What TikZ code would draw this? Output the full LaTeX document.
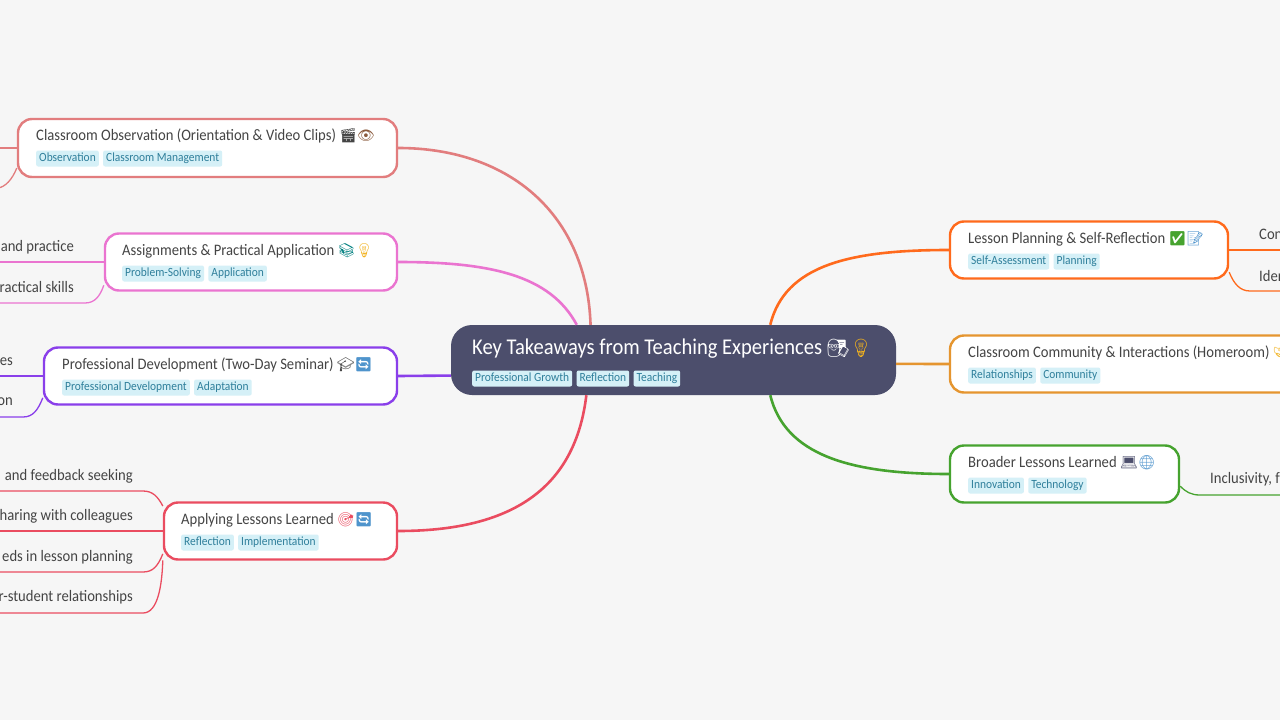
\documentclass[tikz,border=0pt]{standalone}
\usepackage{fontspec}
\setmainfont[FakeStretch=0.915]{Carlito}
\newfontfamily\emojifont{Noto Emoji}
\usetikzlibrary{positioning}
\definecolor{bgcol}{HTML}{F6F6F6}
\definecolor{rootcol}{HTML}{4C4E6C}
\definecolor{tagcol}{HTML}{D5F0F7}
\definecolor{tagtext}{HTML}{2F7F9B}
\definecolor{inkcol}{HTML}{444444}
\definecolor{obscol}{HTML}{E27D7E}
\definecolor{asscol}{HTML}{EA74D0}
\definecolor{devcol}{HTML}{8A3FEA}
\definecolor{appcol}{HTML}{EA4C60}
\definecolor{lescol}{HTML}{FF6A1C}
\definecolor{comcol}{HTML}{E5952F}
\definecolor{brocol}{HTML}{46A32F}
\definecolor{bulbcol}{HTML}{F2B21E}
\definecolor{loopcol}{HTML}{4F94CC}
\definecolor{eyecol}{HTML}{8A5A3C}
\newcommand{\emo}[2]{{\emojifont\fontsize{14}{17}\selectfont\color{#1}#2}}
\begin{document}
\begin{tikzpicture}[y=-1pt,x=1pt]
        \tikzset{
            branch/.style={draw,fill=white,rounded corners=14pt,line width=2.4pt,minimum height=57pt,inner sep=0pt},
            title/.style={anchor=base west,inner sep=0pt,text=inkcol,font=\fontsize{16}{19}\selectfont},
            tag/.style={anchor=west,fill=tagcol,text=tagtext,rounded corners=2pt,inner xsep=3pt,inner ysep=2pt,text height=9pt,text depth=3pt,font=\fontsize{12.5}{15}\selectfont},
            leaf/.style={inner sep=0pt,text=inkcol,font=\fontsize{16}{19}\selectfont},
            link/.style={line width=1.3pt},
            trunk/.style={line width=2.6pt}
        }
        \path[use as bounding box,clip] (0,0) rectangle (1280,720);
        \fill[bgcol] (0,0) rectangle (1280,720);

        \node[fill=rootcol,rounded corners=21pt,minimum width=445pt,minimum height=70pt,inner sep=0pt] (root) at (673.5,360) {};
        \node[title,text=white,font=\fontsize{22.5}{26}\selectfont] (roottitle) at (472,354) {Key Takeaways from Teaching Experiences {\emojifont\fontsize{18}{22}\selectfont\color{white}👨‍🏫\color{bulbcol}💡}};
        \node[tag] (roottag1) at (472,378.5) {Professional Growth};
        \node[tag,right=4pt of roottag1] (roottag2) {Reflection};
        \node[tag,right=4pt of roottag2] (roottag3) {Teaching};

        % left side
        \node[branch,draw=obscol,minimum width=379pt,minimum height=58pt] (obs) at (207.5,148) {};
        \node[title] (obstitle) at (36,140.5) {Classroom Observation (Orientation \& Video Clips) \emo{inkcol}{🎬}\emo{eyecol}{👁}};
        \node[tag] (obstag1) at (36,158.5) {Observation};
        \node[tag,right=4pt of obstag1] (obstag2) {Classroom Management};

        \node[branch,draw=asscol,minimum width=292pt] (ass) at (251,262) {};
        \node[title] (asstitle) at (122,255.5) {Assignments \& Practical Application \emo{teal}{📚}\emo{bulbcol}{💡}};
        \node[tag] (asstag1) at (122,273.5) {Problem-Solving};
        \node[tag,right=4pt of asstag1] (asstag2) {Application};

        \node[branch,draw=devcol,minimum width=353pt] (dev) at (220.5,376) {};
        \node[title] (devtitle) at (62,369.5) {Professional Development (Two-Day Seminar) \emo{inkcol}{🎓}\emo{loopcol}{🔄}};
        \node[tag] (devtag1) at (62,387.5) {Professional Development};
        \node[tag,right=4pt of devtag1] (devtag2) {Adaptation};

        \node[branch,draw=appcol,minimum width=233pt] (app) at (280.5,531) {};
        \node[title] (apptitle) at (181,524.5) {Applying Lessons Learned \emo{appcol}{🎯}\emo{loopcol}{🔄}};
        \node[tag] (apptag1) at (181,542.5) {Reflection};
        \node[tag,right=4pt of apptag1] (apptag2) {Implementation};

        % right side
        \node[branch,draw=lescol,minimum width=278pt] (les) at (1089,250) {};
        \node[title] (lestitle) at (968,243.5) {Lesson Planning \& Self-Reflection \emo{brocol}{✅}\emo{loopcol}{📝}};
        \node[tag] (lestag1) at (968,261.5) {Self-Assessment};
        \node[tag,right=4pt of lestag1] (lestag2) {Planning};

        \node[branch,draw=comcol,minimum width=380pt] (com) at (1140,364) {};
        \node[title] (comtitle) at (968,357.5) {Classroom Community \& Interactions (Homeroom) \emo{bulbcol}{🤝}};
        \node[tag] (comtag1) at (968,375.5) {Relationships};
        \node[tag,right=4pt of comtag1] (comtag2) {Community};

        \node[branch,draw=brocol,minimum width=229pt] (bro) at (1064.5,474) {};
        \node[title] (brotitle) at (968,467.5) {Broader Lessons Learned \emo{rootcol}{💻}\emo{loopcol}{🌐}};
        \node[tag] (brotag1) at (968,485.5) {Innovation};
        \node[tag,right=4pt of brotag1] (brotag2) {Technology};

        % leaf texts
        \node[leaf,anchor=east] (assleaf1) at (74,247) {and practice};
        \node[leaf,anchor=east] (assleaf2) at (74,287.5) {ractical skills};
        \node[leaf,anchor=east] (devleaf1) at (13,361.5) {es};
        \node[leaf,anchor=east] (devleaf2) at (13,401.5) {on};
        \node[leaf,anchor=east] (appleaf1) at (133,476) {and feedback seeking};
        \node[leaf,anchor=east] (appleaf2) at (133,516.5) {haring with colleagues};
        \node[leaf,anchor=east] (appleaf3) at (133,557) {eds in lesson planning};
        \node[leaf,anchor=east] (appleaf4) at (133,597.5) {r-student relationships};
        \node[leaf,anchor=west] (lesleaf1) at (1259,234.5) {Con};
        \node[leaf,anchor=west] (lesleaf2) at (1259,275.5) {Iden};
        \node[leaf,anchor=west] (broleaf1) at (1210,479.5) {Inclusivity, f};

        % free ends at the edge
        \coordinate (obsend1) at (-2,148);
        \coordinate (obsend2) at (-2,188);
        \coordinate (assend1) at (-2,262);
        \coordinate (assend2) at (-2,303);
        \coordinate (devend1) at (-2,376);
        \coordinate (devend2) at (-2,417);
        \coordinate (append1) at (-2,491);
        \coordinate (append2) at (-2,531);
        \coordinate (append3) at (-2,572);
        \coordinate (append4) at (-2,613);
        \coordinate (lesend1) at (1282,250);
        \coordinate (lesend2) at (1282,291);
        \coordinate (broend1) at (1282,495);

        % trunks
        \draw[trunk,obscol] (obs.east) .. controls (510,148) and (587,215) .. (root.157);
        \draw[trunk,asscol] (ass.east) .. controls (490,262) and (550,275) .. (root.160.6);
        \draw[trunk,devcol] (dev.east) -- (root.184.1);
        \draw[trunk,appcol] (app.east) .. controls (510,531) and (575,490) .. (root.202.9);
        \draw[trunk,lescol] (les.west) .. controls (850,250) and (785,265) .. (root.20.9);
        \draw[trunk,comcol] (com.west) -- (root.-1.2);
        \draw[trunk,brocol] (bro.west) .. controls (850,474) and (785,455) .. (root.-20.9);

        % links to the leaves
        \draw[link,obscol] (obs.west) -- (obsend1);
        \draw[link,obscol] (obs.186) .. controls (12,180) and (5,187) .. (obsend2);
        \draw[link,asscol] (ass.west) -- (assend1);
        \draw[link,asscol] (ass.189) .. controls (100,296) and (95,303) .. (85,303) -- (assend2);
        \draw[link,devcol] (dev.west) -- (devend1);
        \draw[link,devcol] (dev.187.1) .. controls (38,410) and (33,417) .. (23,417) -- (devend2);
        \draw[link,appcol] (app.168.8) .. controls (158,497) and (153,491) .. (143,491) -- (append1);
        \draw[link,appcol] (app.west) -- (append2);
        \draw[link,appcol] (app.191.6) .. controls (158,566) and (153,572) .. (143,572) -- (append3);
        \draw[link,appcol] (app.194.7) .. controls (162,585) and (158,613) .. (143,613) -- (append4);
        \draw[link,lescol] (les.east) -- (lesend1);
        \draw[link,lescol] (les.-9) .. controls (1234,284) and (1240,291) .. (1250,291) -- (lesend2);
        \draw[link,brocol] (bro.-6.5) .. controls (1186,492) and (1191,495) .. (1200,495) -- (broend1);
    \end{tikzpicture}
\end{document}
